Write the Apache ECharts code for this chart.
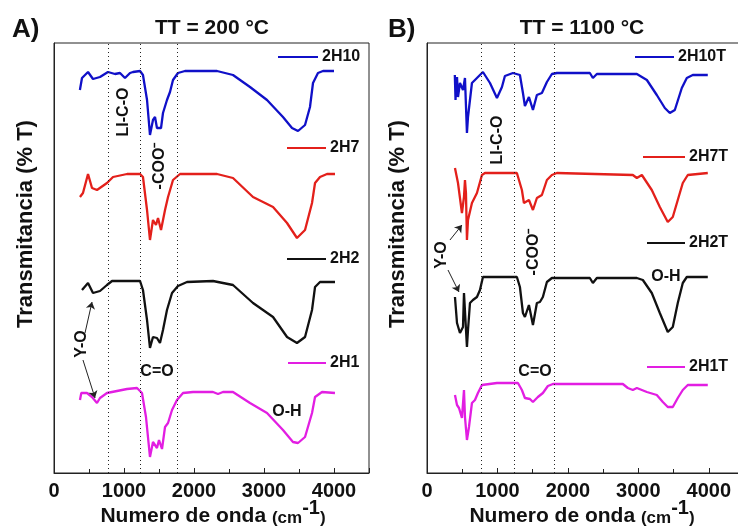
<!DOCTYPE html>
<html>
<head>
<meta charset="utf-8">
<script src="https://cdn.jsdelivr.net/npm/echarts@6/dist/echarts.min.js"></script>
<style>
html, body { margin: 0; padding: 0; background: #fff; }
#chart { width: 738px; height: 527px; }
</style>
</head>
<body>
<div id="chart"></div>
<script>
// FTIR spectra, [wavenumber (cm-1), transmittance (offset, a.u.)]
// A) TT = 200 C
const s2H10 = [[370,383],[400,395],[486,401],[557,394],[657,396],[771,401],[871,399],[943,400],[1014,395],[1086,400],[1129,401],[1229,402],[1271,398],[1329,373],[1371,338],[1414,353],[1443,356],[1471,345],[1529,345],[1557,360],[1614,373],[1657,381],[1700,393],[1771,400],[1871,402],[2329,402],[2557,398],[2800,386],[3043,373],[3271,356],[3400,345],[3486,342],[3586,348],[3657,366],[3700,390],[3771,400],[3843,402],[4000,402]]
const s2H7 = [[371,276],[414,280],[486,299],[543,285],[614,283],[757,290],[843,296],[1043,299],[1229,299],[1271,296],[1329,263],[1371,233],[1414,253],[1457,248],[1486,255],[1529,243],[1586,263],[1629,276],[1700,293],[1800,299],[2329,299],[2557,295],[2843,276],[3129,266],[3329,250],[3471,235],[3586,243],[3686,270],[3729,290],[3800,296],[3900,299],[4014,299]]
const s2H2 = [[400,183],[486,190],[557,180],[657,182],[757,188],[829,192],[1229,192],[1271,183],[1329,153],[1371,125],[1414,136],[1471,135],[1514,130],[1557,143],[1614,163],[1686,180],[1771,187],[1900,191],[2271,192],[2557,188],[2843,170],[3129,156],[3329,136],[3471,130],[3586,136],[3686,163],[3729,186],[3800,191],[4014,191]]
const s2H1 = [[371,73],[390,80],[471,80],[543,76],[614,70],[657,75],[757,80],[900,82],[1043,84],[1186,85],[1257,80],[1314,56],[1371,16],[1414,31],[1471,25],[1500,33],[1543,24],[1586,46],[1629,50],[1686,63],[1757,73],[1843,80],[1986,81],[2271,81],[2343,79],[2414,81],[2557,81],[2800,70],[3043,60],[3271,43],[3414,31],[3486,30],[3586,36],[3686,60],[3729,76],[3829,81],[4014,80]]

// B) TT = 1100 C
const s2H10T = [[395,398],[405,373],[415,390],[426,396],[440,376],[468,390],[511,383],[539,395],[567,340],[582,356],[638,390],[709,395],[794,401],[894,390],[993,375],[1064,386],[1106,397],[1220,400],[1319,398],[1362,380],[1390,367],[1447,376],[1504,363],[1560,378],[1631,380],[1702,391],[1773,399],[1844,400],[2312,400],[2355,395],[2411,399],[2979,399],[3121,393],[3262,378],[3376,365],[3447,360],[3518,363],[3617,385],[3688,395],[3773,398],[3986,398]]
const s2H7T = [[397,305],[420,297],[440,290],[496,260],[525,276],[539,293],[553,280],[567,233],[582,253],[638,270],[709,280],[780,298],[823,300],[1276,300],[1347,283],[1376,270],[1447,273],[1504,263],[1560,275],[1631,278],[1702,293],[1773,298],[1844,300],[2922,298],[2979,295],[3050,298],[3191,283],[3305,266],[3418,251],[3489,256],[3560,273],[3631,290],[3702,298],[3986,300]]
const s2H2T = [[397,176],[426,150],[468,140],[511,146],[525,180],[567,126],[582,143],[610,170],[652,173],[709,176],[752,183],[794,196],[1276,196],[1319,186],[1362,160],[1390,156],[1447,168],[1504,148],[1560,170],[1603,171],[1645,176],[1702,191],[1773,195],[2312,195],[2355,190],[2411,195],[2979,195],[3064,193],[3191,180],[3305,160],[3418,141],[3489,146],[3560,170],[3631,190],[3688,196],[3986,196]]
const s2H1T = [[397,78],[426,68],[454,65],[496,55],[525,83],[539,56],[567,33],[596,46],[638,70],[681,73],[723,80],[780,88],[993,90],[1291,90],[1347,83],[1390,75],[1461,74],[1504,71],[1574,76],[1645,80],[1716,87],[1787,89],[2780,89],[2851,85],[2922,83],[2979,85],[3121,81],[3262,78],[3348,71],[3418,66],[3489,66],[3560,75],[3631,83],[3702,88],[3986,88]]

// dotted guide lines (cm-1)
const guidesA = [770, 1230, 1760]
const guidesB = [770, 1240, 1810]

// Y-O arrows, [from, to] in data units
const arrowsA = [[[443, 140], [543, 171]], [[414, 113], [586, 75]]]
const arrowsB = [[[326, 233], [496, 248]], [[298, 203], [454, 181]]]

const FONT = "'Liberation Sans', Arial, sans-serif"
const BLUE = '#1010c8', RED = '#e3201b', BLACK = '#111111', MAGENTA = '#e21ee2'

const chart = echarts.init(document.getElementById('chart'))

function xAxisFor(gridIndex) {
    return {
        gridIndex,
        type: 'value',
        min: 0,
        max: 4500,
        interval: 1000,
        axisLine: { lineStyle: { color: '#222', width: 1 } },
        axisTick: { inside: true, length: 5, lineStyle: { color: '#222' } },
        minorTick: { show: true, splitNumber: 2, length: 4, lineStyle: { color: '#222' } },
        axisLabel: {
            fontFamily: FONT, fontWeight: 'bold', fontSize: 20, color: '#111', margin: 8, showMaxLabel: false,
            formatter: v => String(v),
        },
        splitLine: { show: false },
    }
}

function yAxisFor(gridIndex) {
    return {
        gridIndex,
        type: 'value',
        min: 0,
        max: 430,
        axisLine: { show: true, lineStyle: { color: '#222', width: 1 } },
        axisTick: { show: false },
        axisLabel: { show: false },
        splitLine: { show: false },
    }
}

function spectrum(data, color, axis) {
    return {
        type: 'line',
        data,
        xAxisIndex: axis,
        yAxisIndex: axis,
        showSymbol: false,
        symbol: 'none',
        lineStyle: { color, width: 2.3 },
        silent: true,
        z: 3,
    }
}

function guideSeries(axis, guides) {
    return {
        type: 'line',
        data: [],
        xAxisIndex: axis,
        yAxisIndex: axis,
        silent: true,
        markLine: {
            silent: true,
            symbol: 'none',
            label: { show: false },
            lineStyle: { type: [1, 3], color: '#222', width: 1 },
            data: guides.map(v => ({ xAxis: v })),
        },
    }
}

function arrowSeries(axis, arrows) {
    return {
        type: 'line',
        data: [],
        xAxisIndex: axis,
        yAxisIndex: axis,
        silent: true,
        markLine: {
            silent: true,
            symbol: ['none', 'arrow'],
            symbolSize: 7,
            label: { show: false },
            lineStyle: { type: 'solid', color: '#222', width: 1 },
            data: arrows.map(a => [{ coord: a[0] }, { coord: a[1] }]),
        },
    }
}

// text helpers for the overlay
function txt(x, y, text, size, rot) {
    return {
        type: 'text',
        x, y,
        rotation: rot ? Math.PI / 2 : 0,
        style: { text, fontFamily: FONT, fontWeight: 'bold', fontSize: size || 16, fill: '#111', align: 'center', verticalAlign: 'middle' },
        z: 10,
    }
}
function xName(x) {
    return {
        type: 'text',
        x, y: 527,
        style: {
            text: '{a|Numero de onda }{b|(cm}{c|-1}{b|)}',
            align: 'center',
            verticalAlign: 'bottom',
            rich: {
                a: { fontFamily: FONT, fontWeight: 'bold', fontSize: 21, fill: '#111', verticalAlign: 'bottom' },
                b: { fontFamily: FONT, fontWeight: 'bold', fontSize: 17, fill: '#111', verticalAlign: 'bottom' },
                c: { fontFamily: FONT, fontWeight: 'bold', fontSize: 20, fill: '#111', verticalAlign: 'bottom', padding: [0, 0, 9, 0] },
            },
        },
        z: 10,
    }
}
function key(x1, x2, y, color, label) {
    return [
        { type: 'line', shape: { x1, y1: y, x2, y2: y }, style: { stroke: color, lineWidth: 2 }, z: 10 },
        { type: 'text', x: x2 + 4, y, style: { text: label, fontFamily: FONT, fontWeight: 'bold', fontSize: 16, fill: '#111', align: 'left', verticalAlign: 'middle' }, z: 10 },
    ]
}

const graphics = [
    { type: 'text', x: 12, y: 30, style: { text: 'A)', fontFamily: FONT, fontWeight: 'bold', fontSize: 26, fill: '#111', verticalAlign: 'middle' } },
    txt(212, 28, 'TT = 200 °C', 21),
    { type: 'text', x: 388, y: 30, style: { text: 'B)', fontFamily: FONT, fontWeight: 'bold', fontSize: 26, fill: '#111', verticalAlign: 'middle' } },
    txt(582, 28, 'TT = 1100 °C', 21),
    txt(26, 224, 'Transmitancia (% T)', 22, true),
    txt(398, 224, 'Transmitancia (% T)', 22, true),
    xName(213),
    xName(582),
    // panel A notes
    txt(124, 112, 'LI-C-O', 16, true),
    txt(160, 166, '-COO\u207B', 16, true),
    txt(82, 344, 'Y-O', 16, true),
    txt(157, 372, 'C=O', 16),
    txt(287, 412, 'O-H', 16),
    // panel B notes
    txt(498, 140, 'LI-C-O', 16, true),
    txt(534, 252, '-COO\u207B', 16, true),
    txt(442, 255, 'Y-O', 16, true),
    txt(535, 372, 'C=O', 16),
    txt(666, 277, 'O-H', 16),
    ...key(278, 318, 57, BLUE, '2H10'),
    ...key(287, 326, 148, RED, '2H7'),
    ...key(287, 326, 259, BLACK, '2H2'),
    ...key(288, 326, 363, MAGENTA, '2H1'),
    ...key(635, 674, 57, BLUE, '2H10T'),
    ...key(643, 685, 157, RED, '2H7T'),
    ...key(647, 685, 243, BLACK, '2H2T'),
    ...key(647, 685, 367, MAGENTA, '2H1T'),
]

chart.setOption({
    animation: false,
    backgroundColor: '#fff',
    grid: [
        { left: 54, top: 43, width: 315, height: 430, show: true, borderColor: '#222', borderWidth: 1, outerBoundsMode: 'none', containLabel: false },
        { left: 427, top: 43, width: 317, height: 430, show: true, borderColor: '#222', borderWidth: 1, outerBoundsMode: 'none', containLabel: false },
    ],
    xAxis: [xAxisFor(0), xAxisFor(1)],
    yAxis: [yAxisFor(0), yAxisFor(1)],
    series: [
        guideSeries(0, guidesA),
        guideSeries(1, guidesB),
        arrowSeries(0, arrowsA),
        arrowSeries(1, arrowsB),
        spectrum(s2H10, BLUE, 0),
        spectrum(s2H7, RED, 0),
        spectrum(s2H2, BLACK, 0),
        spectrum(s2H1, MAGENTA, 0),
        spectrum(s2H10T, BLUE, 1),
        spectrum(s2H7T, RED, 1),
        spectrum(s2H2T, BLACK, 1),
        spectrum(s2H1T, MAGENTA, 1),
    ],
    graphic: graphics,
})
</script>
</body>
</html>
